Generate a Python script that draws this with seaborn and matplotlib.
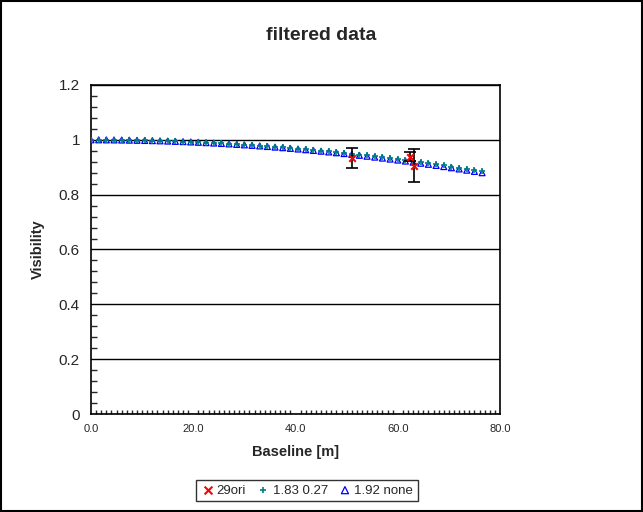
import matplotlib
matplotlib.use('Agg')
import matplotlib.pyplot as plt
import seaborn as sns
from matplotlib.ticker import MultipleLocator, FormatStrFormatter, FuncFormatter
from matplotlib.patches import Rectangle

# baseline positions of the model curves [m]
baseline = [0.0, 1.5, 3.0, 4.5, 6.0, 7.5, 9.0, 10.5, 12.0, 13.5, 15.0, 16.5, 18.0,
            19.5, 21.0, 22.5, 24.0, 25.5, 27.0, 28.5, 30.0, 31.5, 33.0, 34.5, 36.0,
            37.5, 39.0, 40.5, 42.0, 43.5, 45.0, 46.5, 48.0, 49.5, 51.0, 52.5, 54.0,
            55.5, 57.0, 58.5, 60.0, 61.5, 63.0, 64.5, 66.0, 67.5, 69.0, 70.5, 72.0,
            73.5, 75.0, 76.5]

# model "1.92 none"
vis_192 = [1.000, 1.000, 0.9998, 0.9996, 0.9993, 0.9988, 0.9983, 0.9977, 0.9970,
           0.9963, 0.9954, 0.9944, 0.9934, 0.9922, 0.9910, 0.9896, 0.9882, 0.9867,
           0.9851, 0.9833, 0.9816, 0.9797, 0.9777, 0.9756, 0.9734, 0.9712, 0.9688,
           0.9664, 0.9638, 0.9612, 0.9585, 0.9557, 0.9528, 0.9498, 0.9467, 0.9435,
           0.9402, 0.9369, 0.9334, 0.9298, 0.9262, 0.9225, 0.9186, 0.9147, 0.9107,
           0.9066, 0.9024, 0.8981, 0.8937, 0.8893, 0.8847, 0.8800]

# model "1.83 0.27"
vis_183 = [1.000, 1.000, 0.9998, 0.9996, 0.9993, 0.9989, 0.9984, 0.9978, 0.9971,
           0.9965, 0.9956, 0.9947, 0.9937, 0.9926, 0.9914, 0.9901, 0.9887, 0.9873,
           0.9858, 0.9841, 0.9824, 0.9806, 0.9787, 0.9767, 0.9746, 0.9725, 0.9702,
           0.9679, 0.9654, 0.9629, 0.9604, 0.9577, 0.9549, 0.9521, 0.9491, 0.9460,
           0.9429, 0.9397, 0.9364, 0.9330, 0.9295, 0.9260, 0.9223, 0.9185, 0.9147,
           0.9108, 0.9068, 0.9027, 0.8985, 0.8943, 0.8899, 0.8854]

# measured points "29ori"
obs_baseline = [51.1, 62.4, 63.1]
obs_vis = [0.935, 0.939, 0.905]
obs_err = [0.036, 0.016, 0.060]

sns.set_style('white')
plt.rcParams['font.family'] = ['Liberation Sans', 'DejaVu Sans']

fig = plt.figure(figsize=(6.43, 5.12), dpi=100)
ax = fig.add_axes([91 / 643, 1 - 414 / 512, 409 / 643, 329 / 512])

sns.scatterplot(x=baseline, y=vis_192, ax=ax, marker='^', s=18, color='#0000FF',
                facecolor='none', edgecolor='#0000FF', linewidth=0.9, label='1.92 none', zorder=3)
sns.scatterplot(x=baseline, y=vis_183, ax=ax, marker='+', s=14, color='#008080',
                linewidth=1.2, label='1.83 0.27', zorder=4)
ax.errorbar(obs_baseline, obs_vis, yerr=obs_err, fmt='none', ecolor='black',
            elinewidth=1.2, capsize=4, capthick=1.2, zorder=5)
sns.scatterplot(x=obs_baseline, y=obs_vis, ax=ax, marker='x', s=22, color='#FF0000',
                linewidth=1.5, label='29ori', zorder=6)

ax.set_xlim(0, 80)
ax.set_ylim(0, 1.2)
ax.xaxis.set_major_locator(MultipleLocator(20))
ax.xaxis.set_minor_locator(MultipleLocator(1))
ax.yaxis.set_major_locator(MultipleLocator(0.2))
ax.yaxis.set_minor_locator(MultipleLocator(0.04))
ax.xaxis.set_major_formatter(FormatStrFormatter('%.1f'))
ax.yaxis.set_major_formatter(FuncFormatter(lambda v, p: '%g' % round(v, 2)))
ax.grid(axis='y', which='major', color='black', linewidth=1)
ax.set_axisbelow(True)
for sp in ax.spines.values():
    sp.set_color('black')
    sp.set_linewidth(1.2)

ax.tick_params(axis='y', which='major', direction='out', length=5, width=1, labelsize=11, pad=3)
ax.tick_params(axis='y', which='minor', direction='in', length=4, width=1, left=True)
ax.tick_params(axis='x', which='major', direction='inout', length=8, width=1, labelsize=8, pad=3)
ax.tick_params(axis='x', which='minor', direction='in', length=3, width=1, bottom=True)

ax.set_xlabel('Baseline [m]', fontsize=10.5, fontweight='bold', labelpad=8)
ax.set_ylabel('Visibility', fontsize=10.5, fontweight='bold', labelpad=10)
fig.text(0.5, 1 - 35 / 512, 'filtered data', ha='center', va='center',
         fontsize=14, fontweight='bold')

handles, labels = ax.get_legend_handles_labels()
ax.get_legend().remove()
order = [labels.index('29ori'), labels.index('1.83 0.27'), labels.index('1.92 none')]
leg = fig.legend([handles[i] for i in order], [labels[i] for i in order],
                 loc='center', bbox_to_anchor=(307 / 643, 1 - 490.5 / 512), ncol=3,
                 fontsize=9.5, frameon=True, fancybox=False, edgecolor='black',
                 handletextpad=0.2, columnspacing=0.8, handlelength=1.0,
                 borderpad=0.35, markerscale=1.2)
leg.get_frame().set_linewidth(1)

fig.patches.append(Rectangle((0.001, 0.001), 0.998, 0.998, transform=fig.transFigure,
                             fill=False, edgecolor='black', linewidth=1.5))

fig.savefig('out.png', dpi=100)
